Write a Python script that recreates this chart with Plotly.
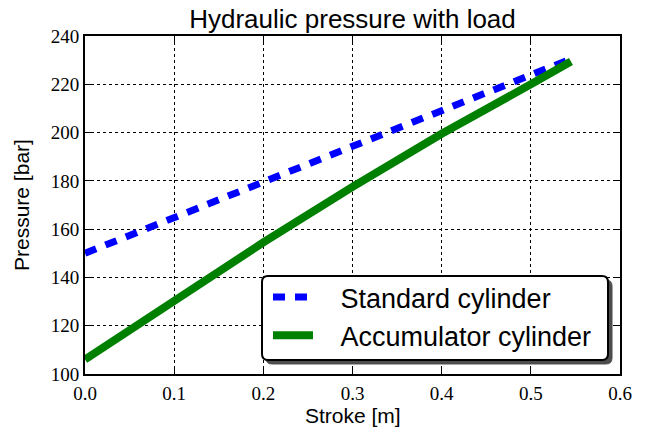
import plotly.graph_objects as go

# data
stroke = [0.0, 0.1, 0.2, 0.3, 0.4, 0.5, 0.545]
standard_p = [150.0, 164.8, 179.6, 194.3, 209.1, 223.9, 230.5]
accum_p = [106.0, 130.5, 154.5, 177.5, 199.5, 220.0, 229.4]
names = ["Standard cylinder", "Accumulator cylinder"]
x_ticks = [0.0, 0.1, 0.2, 0.3, 0.4, 0.5, 0.6]
y_ticks = [100, 120, 140, 160, 180, 200, 220, 240]
x_title = "Stroke [m]"
y_title = "Pressure [bar]"
title = "Hydraulic pressure with load"

SANS = "Liberation Sans, Arial, sans-serif"
SERIF = "Liberation Serif, Times New Roman, serif"
PAD = "\u00a0\u00a0\u00a0"

# page body has an 8px margin: work in screen pixels, convert by OFF
OFF = 8
W, H = 651, 430
SL, SR, ST, SB = 85, 620, 36, 374  # plot area in screen pixels
L, T = SL - OFF, ST - OFF
R, B = W - (SR - OFF), H - (SB - OFF)
pw, ph = SR - SL, SB - ST

fig = go.Figure()
fig.add_trace(go.Scatter(x=stroke, y=standard_p, mode="lines", name=PAD + names[0],
                         line=dict(color="#0000ff", width=7, dash="12px,10px")))
fig.add_trace(go.Scatter(x=stroke, y=accum_p, mode="lines", name=PAD + names[1],
                         line=dict(color="#008000", width=8)))


def px2paper(x, y):
    return (x - SL) / pw, (SB - y) / ph


def rrect(x0, y0, x1, y1, r):
    def P(x, y):
        a, b = px2paper(x, y)
        return f"{a:.5f},{b:.5f}"
    return (f"M{P(x0 + r, y0)} L{P(x1 - r, y0)} Q{P(x1, y0)} {P(x1, y0 + r)} "
            f"L{P(x1, y1 - r)} Q{P(x1, y1)} {P(x1 - r, y1)} L{P(x0 + r, y1)} "
            f"Q{P(x0, y1)} {P(x0, y1 - r)} L{P(x0, y0 + r)} Q{P(x0, y0)} {P(x0 + r, y0)} Z")

bx0, by0, bx1, by1 = 262, 276, 608, 360
fig.add_shape(type="path", xref="paper", yref="paper", layer="above",
              path=rrect(bx0 + 4, by0 + 4, bx1 + 4, by1 + 4, 6),
              fillcolor="#4d4d4d", line=dict(color="#4d4d4d", width=1))
fig.add_shape(type="path", xref="paper", yref="paper", layer="above",
              path=rrect(bx0, by0, bx1, by1, 6),
              fillcolor="white", line=dict(color="black", width=2))

lx, ly = px2paper(268, 273)

axis_common = dict(showline=True, linecolor="black", linewidth=2, mirror="ticks",
                   ticks="inside", ticklen=6, tickwidth=1, tickcolor="black",
                   showgrid=True, gridcolor="black", griddash="dot", gridwidth=1,
                   zeroline=False, automargin=False,
                   tickfont=dict(family=SERIF, size=19, color="black"))

ax_x, ax_y = px2paper(SL + pw / 2, 415)
ay_x, ay_y = px2paper(21, ST + ph / 2)
fig.add_annotation(text=x_title, xref="paper", yref="paper", x=ax_x, y=ax_y,
                   xanchor="center", yanchor="middle", showarrow=False,
                   font=dict(family=SANS, size=21, color="black"))
fig.add_annotation(text=y_title, xref="paper", yref="paper", x=ay_x, y=ay_y,
                   xanchor="center", yanchor="middle", showarrow=False, textangle=-90,
                   font=dict(family=SANS, size=21, color="black"))

fig.update_layout(
    width=W, height=H,
    margin=dict(l=L, r=R, t=T, b=B, autoexpand=False),
    paper_bgcolor="white", plot_bgcolor="white",
    title=dict(text=title, x=(SL - OFF + pw / 2) / W, xanchor="center",
               y=1 - (19 - OFF) / H, yanchor="middle", yref="container",
               font=dict(family=SANS, size=26, color="black")),
    xaxis=dict(range=[0, 0.6], tickvals=x_ticks, tickformat=".1f",
               ticklabelstandoff=1, **axis_common),
    yaxis=dict(range=[100, 240], tickvals=y_ticks, **axis_common),
    showlegend=True,
    legend=dict(x=lx, y=ly, xanchor="left", yanchor="top", bgcolor="rgba(0,0,0,0)",
                borderwidth=0, font=dict(family=SANS, size=27, color="black"),
                itemwidth=40, tracegroupgap=0),
)

fig.write_html("out.html")
